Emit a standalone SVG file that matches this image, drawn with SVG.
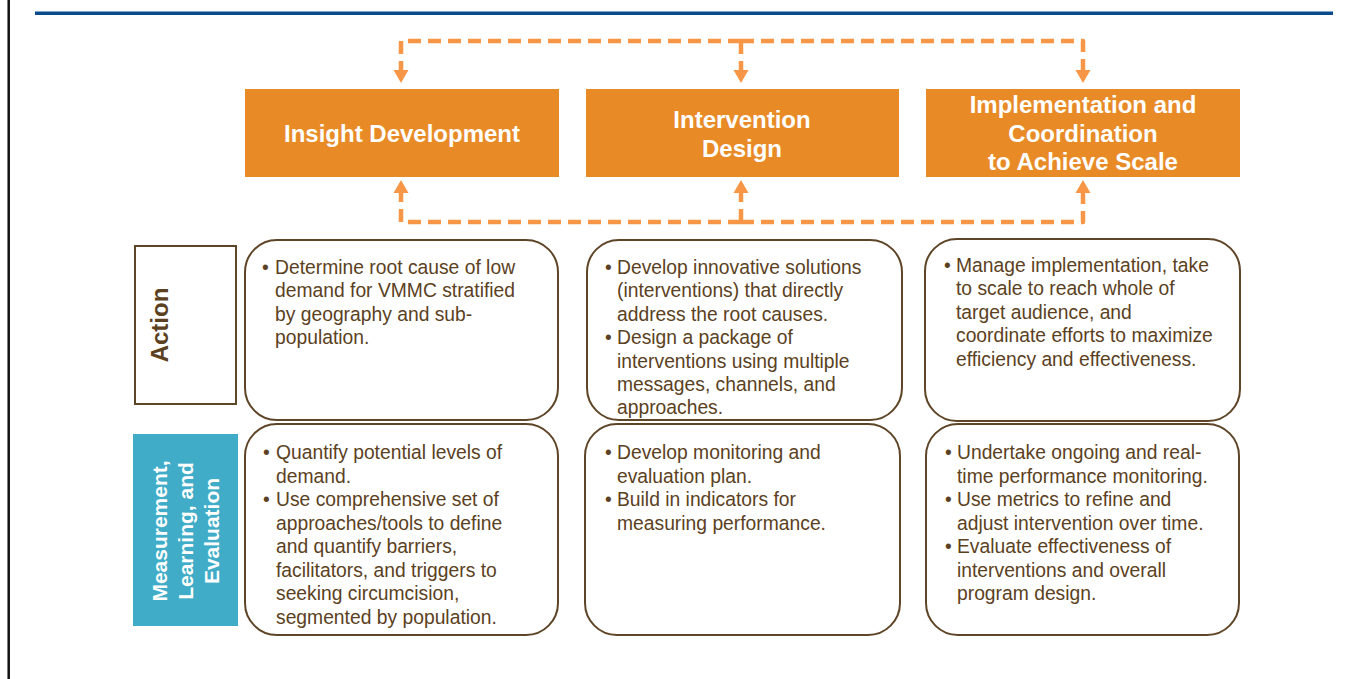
<svg xmlns="http://www.w3.org/2000/svg" width="1350" height="679" viewBox="0 0 1350 679">
<style>
.title{font-family:"Liberation Sans",Arial,sans-serif;font-weight:bold;font-size:24px;fill:#fff;text-anchor:middle}
.obox{fill:#E88B26}
.rbox{fill:#fff;stroke:#5E4527;stroke-width:2}
.body{font-family:"Liberation Sans",Arial,sans-serif;font-size:19.3px;fill:#5B4122}
.dash{fill:none;stroke:#F79646;stroke-width:4.5;stroke-dasharray:13 7;stroke-linejoin:round}
.side{font-family:"Liberation Sans",Arial,sans-serif;font-weight:bold;text-anchor:middle}
</style>
<defs>
<marker id="ah" markerUnits="userSpaceOnUse" markerWidth="14" markerHeight="16" refX="0" refY="7.5" orient="auto" viewBox="0 0 14 15">
<path d="M0,0 L13,7.5 L0,15 Z" fill="#F79646"/>
</marker>
</defs>
<rect x="0" y="0" width="1350" height="679" fill="#fff"/>
<line x1="8.7" y1="0" x2="8.7" y2="679" stroke="#111" stroke-width="2.5"/>
<rect x="35" y="11.5" width="1298" height="3.5" fill="#0B4A8B"/>

<g id="connectors">
<path class="dash" d="M741,41 H401 V70" marker-end="url(#ah)"/>
<path class="dash" d="M741,41 H1083 V70" marker-end="url(#ah)"/>
<path class="dash" d="M741,41 V70" marker-end="url(#ah)"/>
<path class="dash" d="M741,222 H401 V193" marker-end="url(#ah)"/>
<path class="dash" d="M741,222 H1083 V193" marker-end="url(#ah)"/>
<path class="dash" d="M741,222 V193" marker-end="url(#ah)"/>
</g>

<g id="insight">
<rect class="obox" x="245" y="89" width="314" height="88"/>
<text class="title" x="402" y="142">Insight Development</text>
</g>
<g id="intervention">
<rect class="obox" x="586" y="89" width="313" height="88"/>
<text class="title" x="742" y="128">Intervention</text>
<text class="title" x="742" y="157">Design</text>
</g>
<g id="implementation">
<rect class="obox" x="926" y="89" width="314" height="88"/>
<text class="title" x="1083" y="113">Implementation and</text>
<text class="title" x="1083" y="142">Coordination</text>
<text class="title" x="1083" y="170">to Achieve Scale</text>
</g>

<g id="action-label">
<rect x="135" y="246" width="101" height="158" fill="#fff" stroke="#5E4527" stroke-width="2"/>
<text class="side" font-size="24" fill="#5B4122" transform="translate(168,325) rotate(-90)">Action</text>
</g>
<g id="mle-label">
<rect x="133" y="434" width="105" height="192" fill="#40ACC7"/>
<g transform="translate(0,531) rotate(-90)">
<text class="side" font-size="21" fill="#fff" x="0" y="167">Measurement,</text>
<text class="side" font-size="21" fill="#fff" x="0" y="193">Learning, and</text>
<text class="side" font-size="21" fill="#fff" x="0" y="219">Evaluation</text>
</g>
</g>

<g id="action-insight">
<rect class="rbox" x="245" y="240" width="313" height="180" rx="32"/>
<text class="body" x="262" y="274">•</text>
<text class="body"><tspan x="275" y="274">Determine root cause of low</tspan><tspan x="275" y="297.4">demand for VMMC stratified</tspan><tspan x="275" y="320.8">by geography and sub-</tspan><tspan x="275" y="344.2">population.</tspan></text>
</g>
<g id="action-intervention">
<rect class="rbox" x="587" y="240" width="315" height="180" rx="32"/>
<text class="body" x="605" y="274">•</text>
<text class="body" x="605" y="344.2">•</text>
<text class="body"><tspan x="617" y="274">Develop innovative solutions</tspan><tspan x="617" y="297.4">(interventions) that directly</tspan><tspan x="617" y="320.8">address the root causes.</tspan><tspan x="617" y="344.2">Design a package of</tspan><tspan x="617" y="367.6">interventions using multiple</tspan><tspan x="617" y="391">messages, channels, and</tspan><tspan x="617" y="414.4">approaches.</tspan></text>
</g>
<g id="action-implementation">
<rect class="rbox" x="925" y="239" width="315" height="182" rx="32"/>
<text class="body" x="944" y="272">•</text>
<text class="body"><tspan x="956" y="272">Manage implementation, take</tspan><tspan x="956" y="295.4">to scale to reach whole of</tspan><tspan x="956" y="318.8">target audience, and</tspan><tspan x="956" y="342.2">coordinate efforts to maximize</tspan><tspan x="956" y="365.6">efficiency and effectiveness.</tspan></text>
</g>

<g id="mle-insight">
<rect class="rbox" x="245" y="424" width="313" height="211" rx="32"/>
<text class="body" x="263" y="459">•</text>
<text class="body" x="263" y="506">•</text>
<text class="body"><tspan x="276" y="459">Quantify potential levels of</tspan><tspan x="276" y="482.5">demand.</tspan><tspan x="276" y="506">Use comprehensive set of</tspan><tspan x="276" y="529.5">approaches/tools to define</tspan><tspan x="276" y="553">and quantify barriers,</tspan><tspan x="276" y="576.5">facilitators, and triggers to</tspan><tspan x="276" y="600">seeking circumcision,</tspan><tspan x="276" y="623.5">segmented by population.</tspan></text>
</g>
<g id="mle-intervention">
<rect class="rbox" x="585" y="424" width="315" height="211" rx="32"/>
<text class="body" x="605" y="459">•</text>
<text class="body" x="605" y="506">•</text>
<text class="body"><tspan x="617" y="459">Develop monitoring and</tspan><tspan x="617" y="482.5">evaluation plan.</tspan><tspan x="617" y="506">Build in indicators for</tspan><tspan x="617" y="529.5">measuring performance.</tspan></text>
</g>
<g id="mle-implementation">
<rect class="rbox" x="926" y="424" width="313" height="211" rx="32"/>
<text class="body" x="945" y="459">•</text>
<text class="body" x="945" y="506">•</text>
<text class="body" x="945" y="553">•</text>
<text class="body"><tspan x="957" y="459">Undertake ongoing and real-</tspan><tspan x="957" y="482.5">time performance monitoring.</tspan><tspan x="957" y="506">Use metrics to refine and</tspan><tspan x="957" y="529.5">adjust intervention over time.</tspan><tspan x="957" y="553">Evaluate effectiveness of</tspan><tspan x="957" y="576.5">interventions and overall</tspan><tspan x="957" y="600">program design.</tspan></text>
</g>
</svg>
